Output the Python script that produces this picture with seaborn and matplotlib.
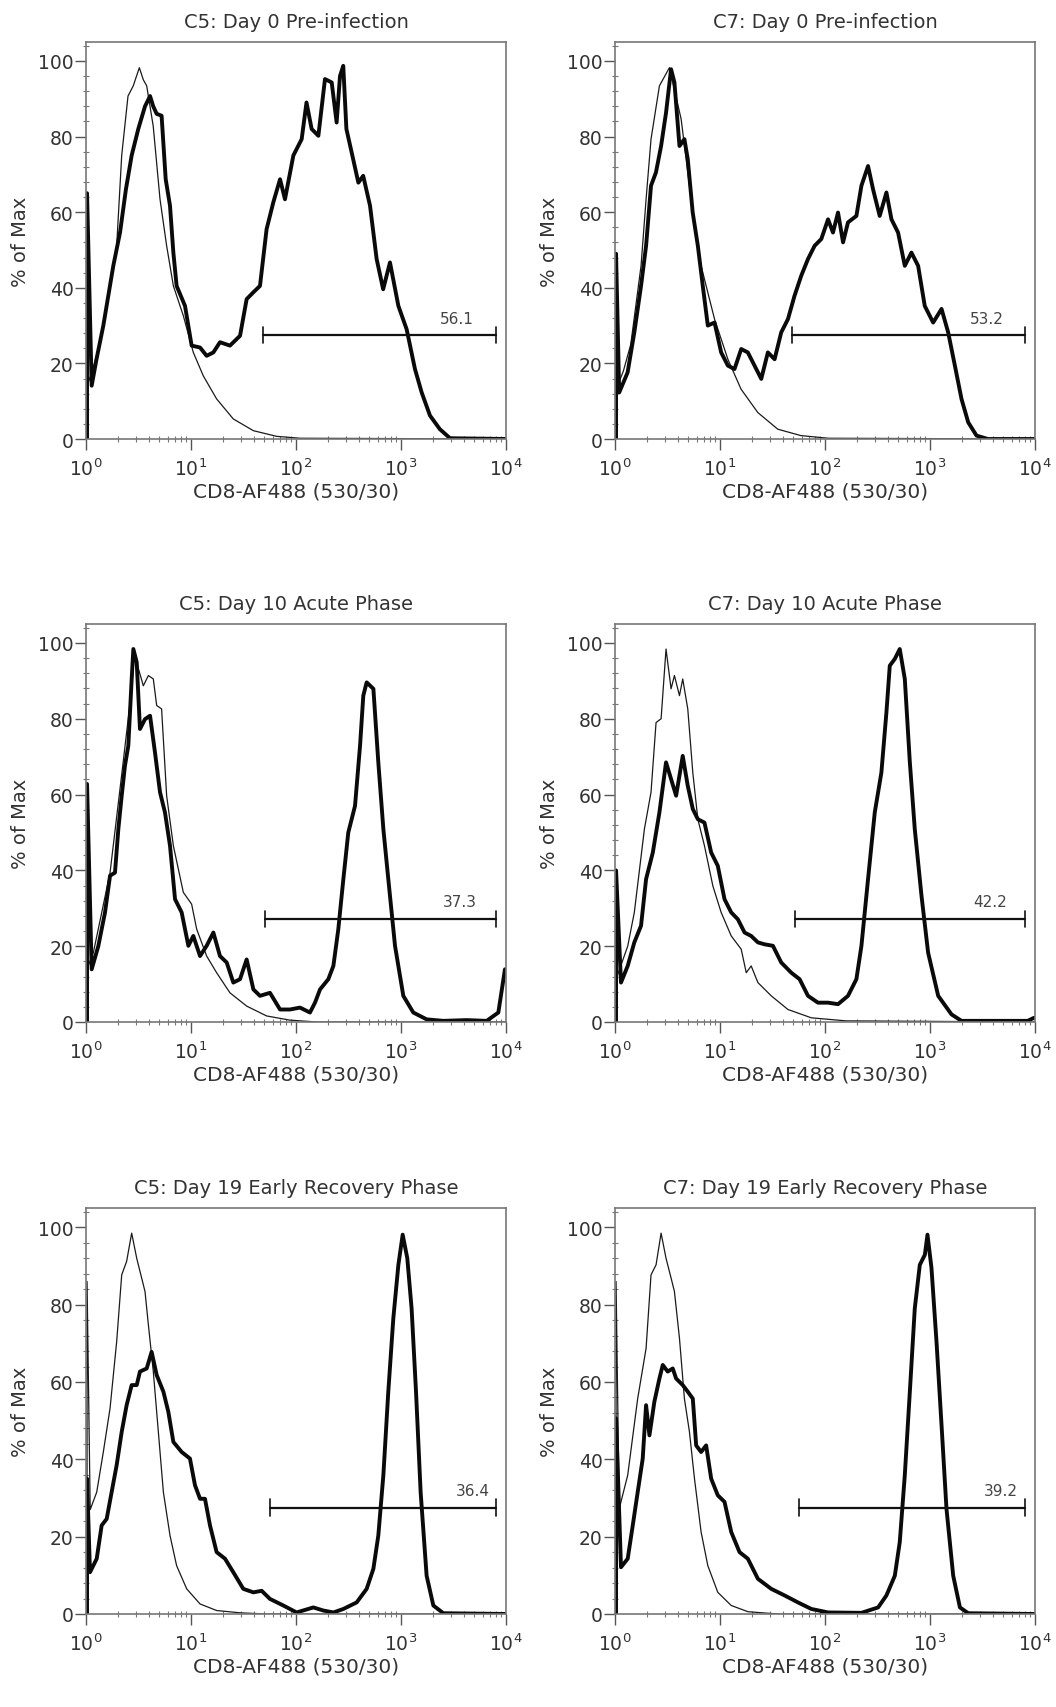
import matplotlib
matplotlib.use('Agg')
import matplotlib.pyplot as plt
import numpy as np
import pandas as pd
import seaborn as sns
from matplotlib.ticker import LogLocator, MultipleLocator, NullFormatter, FixedLocator

# curves: (log10 CD8-AF488 intensity, % of Max)
c5_d0_cd8 = [(0.01, 0), (0.01, 65), (0.054, 14.1), (0.10, 21.1), (0.165, 30), (0.26, 45.8), (0.324, 54.6),
             (0.38, 66), (0.435, 75), (0.498, 82), (0.562, 88), (0.61, 90.7), (0.64, 88), (0.673, 86),
             (0.72, 85.5), (0.759, 68.7), (0.80, 61.7), (0.832, 49.3), (0.863, 40.5), (0.943, 35.2),
             (1.006, 24.7), (1.086, 24.2), (1.149, 22), (1.213, 22.9), (1.276, 25.6), (1.371, 24.7),
             (1.467, 27.3), (1.53, 37), (1.594, 38.8), (1.657, 40.5), (1.72, 55.5), (1.784, 62.6),
             (1.848, 68.7), (1.895, 63.4), (1.975, 75), (2.054, 79.3), (2.10, 89), (2.149, 82), (2.213, 80.2),
             (2.276, 95.2), (2.34, 94.3), (2.387, 83.7), (2.419, 96), (2.45, 98.7), (2.48, 82), (2.53, 75.8),
             (2.594, 67.8), (2.64, 69.6), (2.705, 61.7), (2.768, 47.6), (2.83, 39.6), (2.895, 46.7),
             (2.975, 35.2), (3.054, 29), (3.133, 18.5), (3.197, 12.3), (3.276, 6.2), (3.37, 2.6),
             (3.467, 0.2), (4.0, 0)]
c5_d0_ctrl = [(0.01, 14), (0.06, 18), (0.12, 24), (0.2, 36), (0.29, 50), (0.34, 75), (0.40, 90.7), (0.45, 93.4),
              (0.508, 98.2), (0.546, 95), (0.578, 93.4), (0.64, 82.8), (0.705, 63.4), (0.768, 51.1),
              (0.832, 40.5), (0.927, 32.6), (1.022, 22.9), (1.117, 16.7), (1.244, 10.6), (1.403, 5.3),
              (1.594, 2.2), (1.816, 0.7), (2.04, 0.2), (4.0, 0)]

c7_d0_cd8 = [(0.01, 0), (0.01, 49), (0.04, 12.3), (0.12, 17.6), (0.184, 28.2), (0.248, 40.5), (0.296, 51.1),
             (0.343, 67), (0.39, 70.5), (0.439, 77.5), (0.486, 86.3), (0.534, 97.8), (0.566, 94.3),
             (0.614, 77.5), (0.661, 79.3), (0.693, 74), (0.74, 59.9), (0.789, 51.1), (0.836, 40.5),
             (0.884, 30), (0.948, 30.8), (1.011, 22.9), (1.075, 19.4), (1.138, 18.5), (1.202, 23.8),
             (1.265, 22.9), (1.329, 19.4), (1.393, 15.9), (1.456, 22.9), (1.52, 21.1), (1.583, 28.2),
             (1.647, 31.7), (1.71, 37.9), (1.774, 43.2), (1.838, 47.6), (1.901, 51.1), (1.965, 52.9),
             (2.029, 58.1), (2.076, 54.6), (2.124, 59.9), (2.172, 52), (2.219, 57.3), (2.299, 59),
             (2.347, 67), (2.41, 72.2), (2.458, 66), (2.521, 59), (2.585, 65.2), (2.633, 58.1), (2.696, 54.6),
             (2.76, 45.8), (2.823, 49.3), (2.887, 45.8), (2.95, 35.2), (3.03, 30.8), (3.11, 34.4),
             (3.173, 28.2), (3.237, 19.4), (3.30, 10.6), (3.364, 4.4), (3.443, 0.9), (3.55, 0), (4.0, 0)]
c7_d0_ctrl = [(0.01, 13), (0.08, 18), (0.15, 25), (0.248, 45.8), (0.296, 63.4), (0.343, 79.3), (0.423, 93.4),
              (0.518, 98.2), (0.63, 84.6), (0.725, 63.4), (0.82, 45.8), (0.948, 31.7), (1.075, 21.1),
              (1.2, 13.2), (1.36, 7), (1.55, 2.6), (1.77, 0.9), (2.03, 0.2), (4.0, 0)]

c5_d10_cd8 = [(0.01, 0), (0.01, 62.8), (0.054, 13.9), (0.117, 20), (0.181, 28.9), (0.229, 38.6), (0.276, 39.4),
              (0.308, 50.9), (0.34, 59.7), (0.371, 67.6), (0.403, 72.9), (0.435, 90.5), (0.451, 98.4),
              (0.483, 94.9), (0.514, 77.3), (0.562, 79.9), (0.61, 80.8), (0.657, 71.1), (0.705, 60.6),
              (0.752, 55.3), (0.8, 46.5), (0.848, 32.4), (0.911, 28.9), (0.975, 20.1), (1.022, 22.7),
              (1.086, 17.4), (1.149, 20.1), (1.213, 23.6), (1.276, 17.4), (1.34, 15.7), (1.403, 10.4),
              (1.467, 11.3), (1.53, 16.5), (1.594, 8.6), (1.657, 6.9), (1.752, 7.7), (1.848, 3.3),
              (1.943, 3.3), (2.038, 3.8), (2.133, 2.5), (2.181, 5.1), (2.229, 8.6), (2.308, 11.3),
              (2.356, 14.8), (2.403, 24.5), (2.451, 37.7), (2.498, 50), (2.562, 57), (2.61, 72.9),
              (2.641, 86.1), (2.673, 89.6), (2.737, 87.9), (2.784, 68.5), (2.832, 50.9), (2.879, 37.7),
              (2.943, 20.1), (3.022, 6.9), (3.117, 2.5), (3.244, 0.7), (3.403, 0.3), (3.625, 0.5),
              (3.816, 0.3), (3.927, 2.5), (3.99, 13.9)]
c5_d10_ctrl = [(0.01, 14), (0.07, 18.3), (0.229, 39.4), (0.35, 67.6), (0.435, 87.9), (0.46, 97), (0.546, 88.7),
               (0.594, 91.4), (0.641, 90.5), (0.673, 83.5), (0.72, 82.6), (0.768, 59.7), (0.832, 46.5),
               (0.927, 34.2), (1.006, 31.1), (1.054, 24.5), (1.149, 17.4), (1.244, 13), (1.371, 7.7),
               (1.53, 4.2), (1.72, 1.6), (1.94, 0.5), (2.2, 0), (4.0, 0)]

c7_d10_cd8 = [(0.01, 0), (0.01, 40), (0.057, 10.4), (0.121, 14.8), (0.184, 21), (0.248, 25.4), (0.296, 37.7),
              (0.36, 44.7), (0.423, 55.3), (0.486, 68.5), (0.534, 64.1), (0.582, 59.7), (0.645, 70.2),
              (0.693, 62.3), (0.741, 56.2), (0.789, 53.5), (0.852, 52.6), (0.916, 44.7), (0.979, 41.2),
              (1.043, 32.4), (1.107, 28.9), (1.17, 27.1), (1.234, 23.6), (1.297, 22.7), (1.361, 21),
              (1.424, 20.5), (1.504, 20.1), (1.583, 15.7), (1.679, 13), (1.758, 11.3), (1.838, 6.9),
              (1.933, 5.1), (2.029, 5.1), (2.124, 4.7), (2.219, 6.9), (2.299, 11.3), (2.347, 20.1),
              (2.41, 37.7), (2.474, 55.3), (2.537, 65.8), (2.585, 81.7), (2.617, 94), (2.665, 95.8),
              (2.712, 98.4), (2.76, 90.5), (2.808, 68.5), (2.855, 50.9), (2.919, 33.3), (2.982, 18.3),
              (3.078, 6.9), (3.205, 2), (3.30, 0.3), (3.93, 0.3), (3.99, 1.1)]
c7_d10_ctrl = [(0.01, 11.3), (0.121, 20), (0.184, 28.9), (0.28, 50.9), (0.343, 60.6), (0.391, 79), (0.439, 80),
               (0.486, 98.4), (0.534, 87.9), (0.566, 91.4), (0.614, 86.1), (0.645, 90.5), (0.693, 82.6),
               (0.741, 65.8), (0.789, 53.5), (0.852, 46.5), (0.932, 35.9), (1.011, 28.9), (1.107, 22.7),
               (1.202, 19.2), (1.25, 13), (1.297, 14.8), (1.361, 10.4), (1.488, 6.9), (1.647, 3.3),
               (1.87, 1.1), (2.2, 0.3), (4.0, 0)]

c5_d19_cd8 = [(0.01, 0), (0.01, 35), (0.038, 10.8), (0.102, 14.3), (0.149, 22.9), (0.197, 24.6), (0.244, 31.5),
              (0.292, 38.5), (0.34, 47.1), (0.387, 54), (0.435, 59.2), (0.483, 59.2), (0.514, 62.7),
              (0.578, 63.5), (0.625, 67.8), (0.673, 61.8), (0.737, 57.5), (0.784, 52.3), (0.832, 44.5),
              (0.911, 41.9), (0.99, 40.2), (1.038, 33.3), (1.086, 29.8), (1.133, 29.8), (1.181, 22.9),
              (1.244, 16), (1.324, 14.3), (1.403, 10.8), (1.498, 6.5), (1.594, 5.6), (1.673, 6),
              (1.752, 3.9), (1.879, 2.2), (2.006, 0.4), (2.165, 1.7), (2.26, 0.9), (2.356, 0.4),
              (2.451, 1.3), (2.578, 3), (2.673, 6.5), (2.737, 11.7), (2.784, 20.3), (2.832, 35.9),
              (2.879, 57.5), (2.927, 76.5), (2.975, 90.3), (3.016, 98.1), (3.06, 92), (3.101, 79),
              (3.143, 57.5), (3.187, 31.5), (3.244, 9.9), (3.308, 2.2), (3.403, 0.2), (4.0, 0)]
c5_d19_ctrl = [(0.01, 0), (0.01, 86), (0.04, 27), (0.102, 31.5), (0.165, 41.9), (0.229, 53.2), (0.292, 70.4),
               (0.34, 87.7), (0.387, 91.2), (0.435, 98.5), (0.483, 92), (0.53, 86.9), (0.562, 83.4),
               (0.594, 74.8), (0.641, 62.7), (0.689, 47.1), (0.737, 31.5), (0.8, 20.3), (0.863, 12.5),
               (0.959, 6.5), (1.086, 2.6), (1.244, 0.9), (1.47, 0.3), (1.72, 0), (4.0, 0)]

c7_d19_cd8 = [(0.01, 0), (0.01, 50.6), (0.057, 12.1), (0.121, 14.3), (0.169, 22.9), (0.216, 31.5), (0.264, 40.2),
              (0.296, 54), (0.328, 46.2), (0.375, 54.9), (0.423, 60.9), (0.455, 64.4), (0.502, 62.7),
              (0.55, 63.5), (0.582, 60.9), (0.645, 59.2), (0.693, 57.5), (0.741, 55.7), (0.773, 43.6),
              (0.82, 41.9), (0.868, 43.6), (0.916, 35), (0.979, 30.7), (1.043, 29), (1.107, 21.2),
              (1.186, 16), (1.265, 14.3), (1.361, 9.1), (1.488, 6.5), (1.615, 4.8), (1.742, 3),
              (1.87, 1.3), (2.029, 0.4), (2.347, 0.3), (2.506, 1.7), (2.585, 4.8), (2.665, 9.9),
              (2.712, 18.6), (2.76, 35.9), (2.808, 57.5), (2.855, 79), (2.903, 90.3), (2.951, 92.9),
              (2.976, 98.1), (3.014, 89.5), (3.062, 70.4), (3.11, 48.8), (3.157, 27.2), (3.221, 9.9),
              (3.285, 1.7), (3.364, 0.2), (4.0, 0)]
c7_d19_ctrl = [(0.01, 0), (0.01, 86), (0.04, 27.2), (0.121, 35.9), (0.216, 55.7), (0.296, 68.7), (0.343, 87.7),
               (0.391, 90.3), (0.439, 98.5), (0.486, 92), (0.534, 86.9), (0.566, 83.4), (0.614, 71.3),
               (0.661, 55.7), (0.709, 47.1), (0.757, 35), (0.82, 21.2), (0.884, 12.5), (0.979, 5.6),
               (1.107, 2.2), (1.265, 0.6), (1.55, 0), (4.0, 0)]

titles = ['C5: Day 0 Pre-infection', 'C7: Day 0 Pre-infection',
          'C5: Day 10 Acute Phase', 'C7: Day 10 Acute Phase',
          'C5: Day 19 Early Recovery Phase', 'C7: Day 19 Early Recovery Phase']
gate_pct = ['56.1', '53.2', '37.3', '42.2', '36.4', '39.2']
gate_lo = [49, 49, 51, 52, 57, 57]
gate_hi = [8000, 8000, 8000, 8000, 8000, 8000]
gate_y = [27.5, 27.5, 27.2, 27.2, 27.5, 27.5]

cd8_curves = [c5_d0_cd8, c7_d0_cd8, c5_d10_cd8, c7_d10_cd8, c5_d19_cd8, c7_d19_cd8]
ctrl_curves = [c5_d0_ctrl, c7_d0_ctrl, c5_d10_ctrl, c7_d10_ctrl, c5_d19_ctrl, c7_d19_ctrl]

sns.set_style('white')
plt.rcParams['font.family'] = ['DejaVu Sans']
txt = '#333333'

fig = plt.figure(figsize=(10.56, 17.08), dpi=100)

# axes boxes in pixels (left, top, right, bottom)
col_px = [(86, 506), (615, 1035)]
row_px = [(43, 440), (625, 1023), (1209, 1615)]
label_log = [3.53, 3.54, 3.56, 3.57, 3.68, 3.675]

W, H = 1056, 1708
for i in range(6):
    r, c = divmod(i, 2)
    l, rr = col_px[c]
    t, b = row_px[r]
    ax = fig.add_axes([l / W, 1 - b / H, (rr - l) / W, (b - t) / H])

    ctrl = pd.DataFrame(ctrl_curves[i], columns=['lx', 'pct'])
    ctrl['x'] = 10 ** ctrl['lx']
    cd8 = pd.DataFrame(cd8_curves[i], columns=['lx', 'pct'])
    cd8['x'] = 10 ** cd8['lx']

    sns.lineplot(data=ctrl, x='x', y='pct', sort=False, estimator=None, color='#1a1a1a', lw=0.9, ax=ax)
    sns.lineplot(data=cd8, x='x', y='pct', sort=False, estimator=None, color='#0a0a0a', lw=2.8, ax=ax)

    # gate
    ax.plot([gate_lo[i], gate_hi[i]], [gate_y[i], gate_y[i]], color='#111111', lw=1.6)
    for gx in (gate_lo[i], gate_hi[i]):
        ax.plot([gx, gx], [gate_y[i] - 2.2, gate_y[i] + 2.2], color='#111111', lw=1.2)
    ax.text(10 ** label_log[i], gate_y[i] + 2.5, gate_pct[i], ha='center', va='bottom',
            fontsize=11, color='#444444')

    ax.set_xscale('log')
    ax.set_xlim(1, 1e4)
    ax.set_ylim(0, 105)
    ax.xaxis.set_major_locator(LogLocator(base=10, numticks=10))
    ax.xaxis.set_minor_locator(LogLocator(base=10, subs=np.arange(2, 10), numticks=10))
    ax.xaxis.set_minor_formatter(NullFormatter())
    ax.yaxis.set_major_locator(FixedLocator([0, 20, 40, 60, 80, 100]))
    ax.yaxis.set_minor_locator(MultipleLocator(4))

    ax.tick_params(axis='both', which='major', direction='out', length=8, width=1.0,
                   colors='#555555', labelcolor=txt, labelsize=13.5)
    ax.tick_params(axis='x', which='major', pad=5)
    ax.tick_params(axis='y', which='major', pad=1)
    ax.tick_params(axis='both', which='minor', direction='inout', length=5, width=0.8, colors='#777777')
    ax.tick_params(bottom=True, left=True, which='both')

    for s in ax.spines.values():
        s.set_color('#777777')
        s.set_linewidth(1.2)

    ax.set_title(titles[i], fontsize=14, color=txt, pad=11)
    ax.set_xlabel('CD8-AF488 (530/30)', fontsize=14.5, color=txt, labelpad=2)
    ax.set_ylabel('% of Max', fontsize=14, color=txt, labelpad=6)

fig.savefig('out.png', dpi=100)
